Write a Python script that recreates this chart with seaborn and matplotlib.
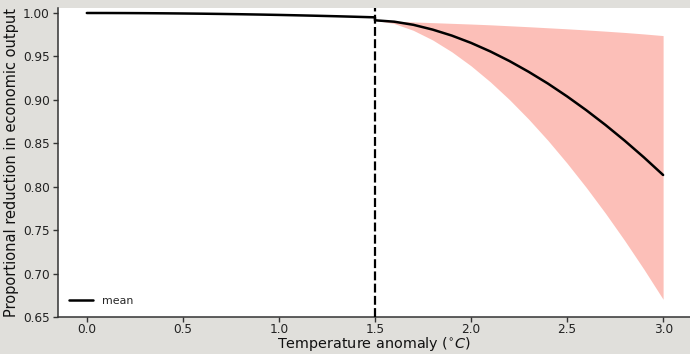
import numpy as np
import pandas as pd
import matplotlib
matplotlib.use("Agg")
import matplotlib.pyplot as plt
import seaborn as sns

# Temperature anomaly grid (deg C)
temp_low = [0.0, 0.1, 0.2, 0.3, 0.4, 0.5, 0.6, 0.7, 0.8, 0.9, 1.0, 1.1, 1.2, 1.3, 1.4, 1.5]
mean_low = [1.0, 0.99998, 0.99991, 0.9998, 0.99964, 0.99944, 0.9992, 0.99891, 0.99858,
            0.9982, 0.99778, 0.99731, 0.9968, 0.99625, 0.99565, 0.995]

temp_high = [1.5, 1.6, 1.7, 1.8, 1.9, 2.0, 2.1, 2.2, 2.3, 2.4, 2.5, 2.6, 2.7, 2.8, 2.9, 3.0]
mean_high = [0.9916, 0.990, 0.9864, 0.9809, 0.974, 0.9656, 0.9558, 0.9447, 0.9323,
             0.9188, 0.904, 0.8881, 0.8711, 0.853, 0.8338, 0.8135]
lower_high = [0.9916, 0.9879, 0.980, 0.969, 0.9553, 0.9392, 0.9208, 0.9003, 0.8778,
              0.8534, 0.8271, 0.7991, 0.7694, 0.738, 0.705, 0.6704]
upper_high = [0.9916, 0.9906, 0.9897, 0.9889, 0.9881, 0.9873, 0.9864, 0.9853, 0.9842,
              0.983, 0.9818, 0.9805, 0.9791, 0.9776, 0.9759, 0.974]

threshold = 1.5
xticks = [0.0, 0.5, 1.0, 1.5, 2.0, 2.5, 3.0]
yticks = [0.65, 0.70, 0.75, 0.80, 0.85, 0.90, 0.95, 1.00]

sns.set_style("ticks")
plt.rcParams['font.family'] = ['DejaVu Sans']

df = pd.DataFrame({"temp": temp_low + temp_high, "mean": mean_low + mean_high})

fig = plt.figure(figsize=(6.9, 3.54), dpi=100)
fig.patch.set_facecolor("#e0dfdb")
ax = fig.add_axes([58 / 690, (354 - 317) / 354, (690 - 58) / 690, (317 - 7.7) / 354])
ax.set_facecolor("white")

ax.fill_between(temp_high, lower_high, upper_high, color="salmon", alpha=0.5,
                linewidth=0, zorder=1)
sns.lineplot(data=df, x="temp", y="mean", ax=ax, color="black", linewidth=1.8,
             label="mean", sort=False, estimator=None, zorder=3)
ax.axvline(threshold, color="black", linestyle=(0, (4, 1.5)), linewidth=1.6, zorder=4)

ax.set_xlim(-0.15, 3.14)
ax.set_ylim(0.65, 1.0061)
ax.set_xticks(xticks)
ax.set_xticklabels([f"{t:.1f}" for t in xticks])
ax.set_yticks(yticks)
ax.set_yticklabels([f"{t:.2f}" for t in yticks])
ax.tick_params(labelsize=8.7, length=3.5, width=1.0, color="#333333", labelcolor="#222222")
ax.tick_params(axis="x", pad=1.0)
ax.tick_params(axis="y", pad=2.5)

for s in ["top", "right"]:
    ax.spines[s].set_visible(False)
for s in ["left", "bottom"]:
    ax.spines[s].set_color("#333333")
    ax.spines[s].set_linewidth(1.1)

ax.set_xlabel("Temperature anomaly ($^{\\circ}C$)", fontsize=10.4, color="#111111", labelpad=-0.6)
ax.set_ylabel("Proportional reduction in economic output", fontsize=10.5, color="#111111", labelpad=2.5)

leg = ax.legend(loc="lower left", frameon=False, fontsize=7.9, handlelength=2.2,
                borderaxespad=0.6)

fig.savefig("out.png", dpi=100, facecolor=fig.get_facecolor())
